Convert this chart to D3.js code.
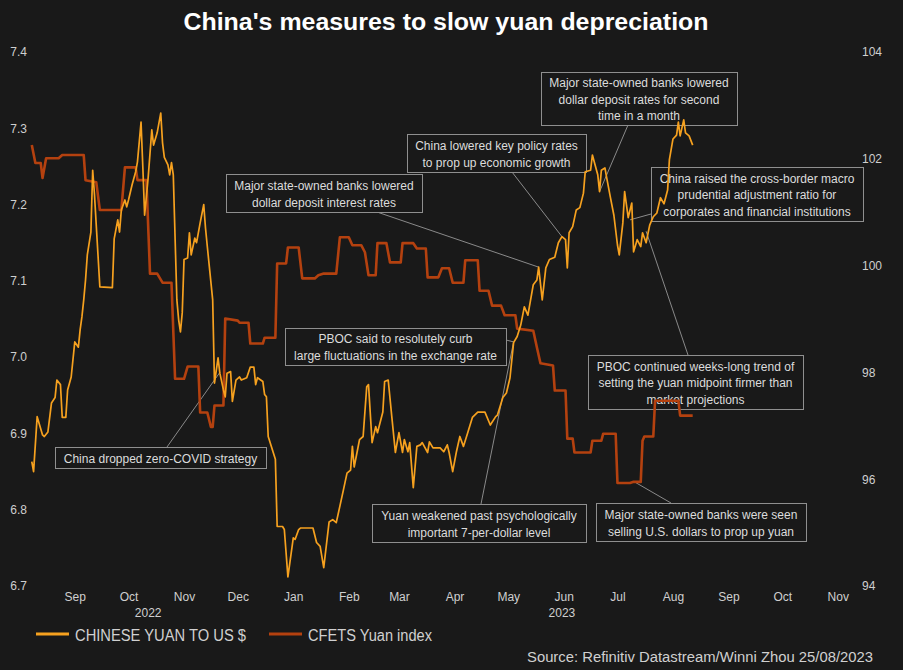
<!DOCTYPE html>
<html>
<head>
<meta charset="utf-8">
<script src="https://cdn.jsdelivr.net/npm/d3@7"></script>
<style>
    html, body { margin: 0; padding: 0; background: #191919; }
    svg { display: block; }
</style>
</head>
<body>
<svg id="chart"></svg>
<script>
"use strict";

// CNY per USD (left axis)
const cny_dates = [
    "2022-08-22","2022-08-23","2022-08-25","2022-08-28","2022-08-29","2022-08-31","2022-09-02","2022-09-04",
    "2022-09-05","2022-09-07","2022-09-08","2022-09-10","2022-09-11","2022-09-13","2022-09-15","2022-09-17",
    "2022-09-18","2022-09-19","2022-09-20","2022-09-21","2022-09-22","2022-09-24","2022-09-25","2022-09-26",
    "2022-09-29","2022-10-06","2022-10-07","2022-10-09","2022-10-10","2022-10-11","2022-10-13","2022-10-14",
    "2022-10-15","2022-10-17","2022-10-19","2022-10-20","2022-10-22","2022-10-23","2022-10-24","2022-10-26",
    "2022-10-28","2022-10-29","2022-10-31","2022-11-02","2022-11-03","2022-11-04","2022-11-06","2022-11-07",
    "2022-11-08","2022-11-09","2022-11-11","2022-11-12","2022-11-13","2022-11-14","2022-11-15","2022-11-17",
    "2022-11-18","2022-11-19","2022-11-21","2022-11-22","2022-11-24","2022-11-26","2022-11-27","2022-11-28",
    "2022-12-01","2022-12-02","2022-12-04","2022-12-05","2022-12-07","2022-12-08","2022-12-09","2022-12-11",
    "2022-12-12","2022-12-14","2022-12-16","2022-12-17","2022-12-20","2022-12-22","2022-12-24","2022-12-25",
    "2022-12-26","2022-12-29","2022-12-30","2022-12-31","2023-01-01","2023-01-05","2023-01-06","2023-01-09",
    "2023-01-10","2023-01-12","2023-01-15","2023-01-16","2023-01-18","2023-01-19","2023-01-26","2023-01-28",
    "2023-01-30","2023-02-01","2023-02-04","2023-02-06","2023-02-08","2023-02-12","2023-02-14","2023-02-16",
    "2023-02-17","2023-02-18","2023-02-21","2023-02-23","2023-02-25","2023-02-26","2023-02-28","2023-03-02",
    "2023-03-03","2023-03-06","2023-03-07","2023-03-09","2023-03-11","2023-03-13","2023-03-15","2023-03-17",
    "2023-03-18","2023-03-20","2023-03-21","2023-03-23","2023-03-25","2023-03-27","2023-03-28","2023-03-31",
    "2023-04-01","2023-04-03","2023-04-07","2023-04-09","2023-04-11","2023-04-12","2023-04-14","2023-04-16",
    "2023-04-18","2023-04-20","2023-04-22","2023-04-25","2023-04-28","2023-05-02","2023-05-05","2023-05-08",
    "2023-05-09","2023-05-12","2023-05-14","2023-05-16","2023-05-18","2023-05-20","2023-05-22","2023-05-24",
    "2023-05-26","2023-05-29","2023-05-31","2023-06-01","2023-06-03","2023-06-05","2023-06-07","2023-06-10",
    "2023-06-12","2023-06-14","2023-06-16","2023-06-17","2023-06-18","2023-06-20","2023-06-22","2023-06-24",
    "2023-06-26","2023-06-27","2023-06-30","2023-07-01","2023-07-04","2023-07-05","2023-07-06","2023-07-08",
    "2023-07-09","2023-07-11","2023-07-13","2023-07-15","2023-07-16","2023-07-18","2023-07-19","2023-07-21",
    "2023-07-23","2023-07-24","2023-07-26","2023-07-28","2023-07-29","2023-07-31","2023-08-02","2023-08-04",
    "2023-08-06","2023-08-08","2023-08-10","2023-08-12","2023-08-13","2023-08-15","2023-08-17","2023-08-18",
    "2023-08-19","2023-08-21","2023-08-22","2023-08-24","2023-08-26"
];
const cny_rates = [
    6.863,6.850,6.922,6.898,6.896,6.902,6.940,6.947,
    6.970,6.964,6.921,6.921,6.957,6.974,7.020,7.013,
    7.036,7.053,7.075,7.101,7.134,7.164,7.245,7.213,
    7.092,7.091,7.155,7.180,7.164,7.193,7.206,7.197,
    7.206,7.226,7.243,7.256,7.308,7.249,7.186,7.236,
    7.298,7.278,7.294,7.320,7.281,7.262,7.252,7.239,
    7.255,7.239,7.075,7.049,7.033,7.058,7.128,7.130,
    7.163,7.134,7.156,7.150,7.176,7.200,7.169,7.145,
    7.075,6.966,6.999,6.979,6.957,6.948,6.979,6.981,
    6.942,6.970,6.974,6.970,6.973,6.987,6.987,6.964,
    6.973,6.968,6.951,6.948,6.896,6.866,6.778,6.778,
    6.774,6.712,6.763,6.761,6.774,6.776,6.776,6.757,
    6.752,6.724,6.784,6.787,6.783,6.826,6.848,6.852,
    6.883,6.856,6.892,6.896,6.961,6.964,6.888,6.909,
    6.901,6.928,6.968,6.970,6.922,6.875,6.901,6.875,
    6.892,6.876,6.888,6.829,6.883,6.885,6.888,6.875,
    6.889,6.881,6.881,6.876,6.885,6.875,6.850,6.875,
    6.896,6.883,6.898,6.921,6.928,6.928,6.911,6.922,
    6.924,6.947,6.953,6.973,7.019,7.027,7.042,7.066,
    7.055,7.095,7.101,7.118,7.075,7.117,7.128,7.131,
    7.150,7.158,7.154,7.117,7.163,7.171,7.193,7.196,
    7.215,7.243,7.245,7.265,7.239,7.217,7.245,7.248,
    7.235,7.210,7.186,7.147,7.134,7.176,7.217,7.183,
    7.202,7.138,7.154,7.145,7.163,7.150,7.173,7.184,
    7.189,7.209,7.201,7.219,7.259,7.286,7.291,7.308,
    7.290,7.311,7.294,7.290,7.278
];

// CFETS yuan index (right axis)
const cfets_dates = [
    "2022-08-22","2022-08-24","2022-08-27","2022-08-28","2022-08-30","2022-09-06","2022-09-08","2022-09-20",
    "2022-09-21","2022-09-27","2022-09-29","2022-10-11","2022-10-13","2022-10-19","2022-10-20","2022-10-25",
    "2022-10-27","2022-10-31","2022-11-03","2022-11-08","2022-11-10","2022-11-15","2022-11-17","2022-11-23",
    "2022-11-24","2022-11-28","2022-11-30","2022-12-01","2022-12-02","2022-12-07","2022-12-08","2022-12-15",
    "2022-12-16","2022-12-21","2022-12-22","2022-12-29","2022-12-30","2023-01-05","2023-01-06","2023-01-11",
    "2023-01-12","2023-01-18","2023-01-20","2023-01-27","2023-01-29","2023-02-01","2023-02-08","2023-02-10",
    "2023-02-15","2023-02-17","2023-02-22","2023-02-24","2023-02-26","2023-03-02","2023-03-03","2023-03-08",
    "2023-03-10","2023-03-16","2023-03-17","2023-03-23","2023-03-25","2023-03-30","2023-03-31","2023-04-06",
    "2023-04-08","2023-04-12","2023-04-14","2023-04-20","2023-04-21","2023-04-28","2023-04-29","2023-05-04",
    "2023-05-06","2023-05-11","2023-05-13","2023-05-19","2023-05-20","2023-05-29","2023-05-31","2023-06-02",
    "2023-06-09","2023-06-10","2023-06-16","2023-06-17","2023-06-20","2023-06-21","2023-06-30","2023-07-01",
    "2023-07-06","2023-07-07","2023-07-14","2023-07-15","2023-07-22","2023-07-24","2023-07-28","2023-07-29",
    "2023-07-30","2023-08-04","2023-08-05","2023-08-18","2023-08-19","2023-08-26"
];
const cfets_index = [
    102.26,101.92,101.92,101.64,102.01,102.01,102.07,102.07,
    101.60,101.56,101.04,101.04,101.84,101.84,101.60,101.60,
    99.85,99.85,99.68,99.68,97.88,97.88,98.11,98.11,
    97.25,97.25,96.98,96.98,97.38,97.38,99.01,98.97,
    98.93,98.93,98.54,98.54,98.65,98.65,100.04,100.04,
    100.34,100.34,99.76,99.76,99.82,99.85,99.85,100.53,
    100.53,100.38,100.38,100.25,99.82,99.82,100.42,100.42,
    100.06,100.06,100.42,100.42,100.32,100.32,99.78,99.78,
    99.95,99.95,99.68,99.68,100.10,100.10,99.53,99.53,
    99.25,99.25,99.07,99.07,98.82,98.78,98.47,98.17,
    98.13,97.66,97.66,96.76,96.76,96.50,96.50,96.72,
    96.72,96.85,96.85,95.93,95.93,95.95,95.95,96.72,
    96.80,96.80,97.47,97.47,97.19,97.19
];

const left_ticks = [6.7, 6.8, 6.9, 7.0, 7.1, 7.2, 7.3, 7.4];
const right_ticks = [94, 96, 98, 100, 102, 104];
const month_ticks = ["2022-09-15","2022-10-15","2022-11-15","2022-12-15","2023-01-15","2023-02-15","2023-03-15",
    "2023-04-15","2023-05-15","2023-06-15","2023-07-15","2023-08-15","2023-09-15","2023-10-15","2023-11-15"];
const year_labels = ["2022", "2023"];
const year_label_dates = ["2022-10-26", "2023-06-14"];

const series_names = ["CHINESE YUAN TO US $", "CFETS Yuan index"];
const series_colors = ["#f6a11f", "#b4410f"];

// annotation boxes: text lines, box [x, y, w, h], leader start, leader target [date, value, axis]
const notes = [
    { lines: ["Major state-owned banks lowered", "dollar deposit rates for second", "time in a month"],
      box: [541, 72, 196, 53], from: [628, 125], to: ["2023-07-05", 7.217, "L"] },
    { lines: ["China lowered key policy rates", "to prop up economic growth"],
      box: [407, 134, 179, 38], from: [512, 172], to: ["2023-06-14", 7.158, "L"] },
    { lines: ["Major state-owned banks lowered", "dollar deposit interest rates"],
      box: [226, 174, 196, 38], from: [377, 212], to: ["2023-06-01", 7.118, "L"] },
    { lines: ["China raised the cross-border macro", "prudential adjustment ratio for", "corporates and financial institutions"],
      box: [651, 167, 212, 54], from: [651, 214], to: ["2023-07-22", 7.18, "L"] },
    { lines: ["PBOC continued weeks-long trend of", "setting the yuan midpoint firmer than", "market projections"],
      box: [588, 355, 215, 54], from: [688, 355], to: ["2023-07-31", 7.165, "L"] },
    { lines: ["Major state-owned banks were seen", "selling U.S. dollars to prop up yuan"],
      box: [596, 503, 210, 38], from: [671, 503], to: ["2023-07-25", 95.94, "R"] },
    { lines: ["Yuan weakened past psychologically", "important 7-per-dollar level"],
      box: [372, 504, 214, 38], from: [481, 504], to: ["2023-05-18", 7.02, "L"] },
    { lines: ["PBOC said to resolutely curb", "large fluctuations in the exchange rate"],
      box: [285, 328, 221, 37], from: [506, 340], to: ["2023-05-18", 7.02, "L"] },
    { lines: ["China dropped zero-COVID strategy"],
      box: [55, 447, 211, 21], from: [167, 447], to: ["2022-12-05", 6.98, "L"] }
];

const width = 903;
const height = 670;
const font = "'Liberation Sans', Arial, sans-serif";
const narrow_font = "'Liberation Sans Narrow', 'Arial Narrow', 'Liberation Sans', sans-serif";

const parse_day = d3.timeParse("%Y-%m-%d");

function plotChart() {
    const svg = d3.select("#chart")
        .attr("width", width)
        .attr("height", height)
        .style("font-family", font);

    svg.append("rect")
        .attr("width", width)
        .attr("height", height)
        .attr("fill", "#191919");

    const x = d3.scaleTime()
        .domain([parse_day("2022-08-21"), parse_day("2023-12-03")])
        .range([30, 870]);
    const y_left = d3.scaleLinear().domain([6.7, 7.4]).range([586, 52]);
    const y_right = d3.scaleLinear().domain([94, 104]).range([586, 52]);

    // title
    svg.append("text")
        .attr("x", 446)
        .attr("y", 30)
        .attr("text-anchor", "middle")
        .attr("fill", "#ffffff")
        .attr("font-size", 23)
        .attr("font-weight", "bold")
        .attr("textLength", 525)
        .attr("lengthAdjust", "spacingAndGlyphs")
        .text("China's measures to slow yuan depreciation");

    // axes
    const left_axis = svg.append("g")
        .attr("transform", "translate(30,0)")
        .call(d3.axisLeft(y_left).tickValues(left_ticks).tickFormat(d3.format(".1f")).tickSize(0).tickPadding(3));

    const right_axis = svg.append("g")
        .attr("transform", "translate(862,0)")
        .call(d3.axisRight(y_right).tickValues(right_ticks).tickSize(0).tickPadding(0));

    const bottom_axis = svg.append("g")
        .attr("transform", "translate(0,585)")
        .call(d3.axisBottom(x).tickValues(month_ticks.map(parse_day)).tickFormat(d3.timeFormat("%b")).tickSize(0).tickPadding(7));

    [left_axis, right_axis, bottom_axis].forEach(g => {
        g.select(".domain").remove();
        g.selectAll("text")
            .attr("fill", "#cfcfcf")
            .attr("font-size", 12)
            .attr("font-family", font);
    });

    svg.selectAll(".year-label")
        .data(year_labels)
        .enter().append("text")
        .attr("class", "year-label")
        .attr("x", (d, i) => x(parse_day(year_label_dates[i])))
        .attr("y", 617)
        .attr("text-anchor", "middle")
        .attr("fill", "#cfcfcf")
        .attr("font-size", 12)
        .text(d => d);

    // annotation boxes + leader lines (drawn under the series)
    const note = svg.selectAll(".note")
        .data(notes)
        .enter().append("g")
        .attr("class", "note");

    note.append("line")
        .attr("x1", d => d.from[0])
        .attr("y1", d => d.from[1])
        .attr("x2", d => x(parse_day(d.to[0])))
        .attr("y2", d => (d.to[2] === "R" ? y_right : y_left)(d.to[1]))
        .attr("stroke", "#8a8a8a")
        .attr("stroke-width", 1);

    note.append("rect")
        .attr("x", d => d.box[0] + 0.5)
        .attr("y", d => d.box[1] + 0.5)
        .attr("width", d => d.box[2])
        .attr("height", d => d.box[3])
        .attr("fill", "#191919")
        .attr("stroke", "#8f8f8f")
        .attr("stroke-width", 1);

    note.each(function (d) {
        const line_height = 16.6;
        const cx = d.box[0] + d.box[2] / 2;
        const cy = d.box[1] + d.box[3] / 2 + 1;
        const n = d.lines.length;
        d3.select(this).selectAll("text")
            .data(d.lines)
            .enter().append("text")
            .attr("x", cx)
            .attr("y", (t, i) => cy + (i - (n - 1) / 2) * line_height)
            .attr("dy", "0.35em")
            .attr("text-anchor", "middle")
            .attr("fill", "#dcdcdc")
            .attr("font-size", 12)
            .text(t => t);
    });

    // series
    const cny = cny_dates.map((d, i) => ({ date: parse_day(d), value: cny_rates[i] }));
    const cfets = cfets_dates.map((d, i) => ({ date: parse_day(d), value: cfets_index[i] }));

    svg.append("path")
        .datum(cfets)
        .attr("fill", "none")
        .attr("stroke", series_colors[1])
        .attr("stroke-width", 2.6)
        .attr("stroke-linejoin", "round")
        .attr("d", d3.line().x(d => x(d.date)).y(d => y_right(d.value)));

    svg.append("path")
        .datum(cny)
        .attr("fill", "none")
        .attr("stroke", series_colors[0])
        .attr("stroke-width", 1.7)
        .attr("stroke-linejoin", "round")
        .attr("d", d3.line().x(d => x(d.date)).y(d => y_left(d.value)));

    // legend
    const legend_x = [36, 269];
    const legend_text_len = [171, 124];
    const legend = svg.selectAll(".legend")
        .data(series_names)
        .enter().append("g")
        .attr("class", "legend")
        .attr("transform", (d, i) => `translate(${legend_x[i]},634)`);

    legend.append("line")
        .attr("x1", 0)
        .attr("x2", 33)
        .attr("stroke", (d, i) => series_colors[i])
        .attr("stroke-width", 3);

    legend.append("text")
        .attr("x", 39)
        .attr("y", 7)
        .attr("fill", "#d0d0d0")
        .attr("font-size", 16)
        .attr("font-family", narrow_font)
        .attr("textLength", (d, i) => legend_text_len[i])
        .attr("lengthAdjust", "spacingAndGlyphs")
        .text(d => d);

    svg.append("text")
        .attr("x", 527)
        .attr("y", 662)
        .attr("fill", "#d0d0d0")
        .attr("font-size", 15.5)
        .attr("font-family", narrow_font)
        .attr("textLength", 346)
        .attr("lengthAdjust", "spacingAndGlyphs")
        .text("Source: Refinitiv Datastream/Winni Zhou 25/08/2023");
}

plotChart();
</script>
</body>
</html>
